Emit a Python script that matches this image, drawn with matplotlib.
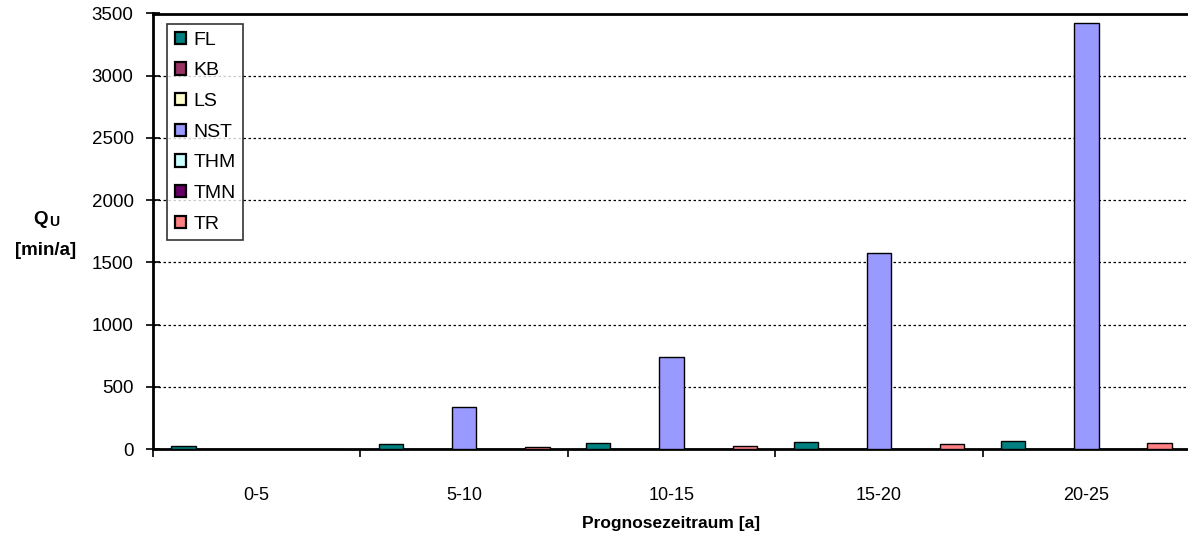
import numpy as np
import matplotlib
matplotlib.use("Agg")
from matplotlib import pyplot as plt

plt.rcParams['font.family'] = ['Liberation Sans', 'DejaVu Sans']

# data
periods = ['0-5', '5-10', '10-15', '15-20', '20-25']
series = ['FL', 'KB', 'LS', 'NST', 'THM', 'TMN', 'TR']
values = {
    'FL':  [27, 43, 45, 55, 62],
    'KB':  [0, 0, 0, 0, 0],
    'LS':  [0, 0, 0, 0, 0],
    'NST': [0, 335, 737, 1578, 3421],
    'THM': [0, 0, 0, 0, 0],
    'TMN': [0, 0, 0, 0, 0],
    'TR':  [0, 15, 27, 43, 51],
}
colors = {
    'FL': '#008080', 'KB': '#993366', 'LS': '#FFFFCC', 'NST': '#9999FF',
    'THM': '#CCFFFF', 'TMN': '#660066', 'TR': '#FF8080',
}

W, H = 1188, 536
fig = plt.figure(figsize=(W / 100, H / 100), dpi=100)
# axes in pixel coords: left 153, right 1190 (runs off the image), top 13.5, bottom 449
ax = fig.add_axes([153 / W, (H - 449) / H, (1190 - 153) / W, (449 - 13.5) / H])

n = len(series)
gap = 1.5
w = 1.0 / (n + gap)
x = np.arange(len(periods))
for i, s in enumerate(series):
    pos = x - 0.5 + gap * w / 2 + (i + 0.5) * w
    ax.bar(pos, values[s], width=w, color=colors[s], edgecolor='black',
           linewidth=1.0, label=s, zorder=3)

ax.set_xlim(-0.5, len(periods) - 0.5)
ax.set_ylim(0, 3500)
ax.set_yticks(np.arange(0, 3501, 500))
ax.yaxis.grid(True, color='black', linestyle=(0, (2, 2)), linewidth=0.9, zorder=0)

# group boundaries as major ticks, labels at centres
ax.set_xticks(np.arange(-0.5, len(periods), 1.0))
ax.set_xticklabels([])
ax.set_xticks(x, minor=True)
ax.set_xticklabels(periods, minor=True)
ax.tick_params(axis='x', which='major', direction='out', length=6, width=1.2, color='black')
ax.tick_params(axis='x', which='minor', length=0, pad=27, labelsize=13)
ax.tick_params(axis='y', direction='inout', length=10, width=1.2, labelsize=13.5, pad=9)

for side in ['left', 'bottom', 'top']:
    ax.spines[side].set_linewidth(2.0)
    ax.spines[side].set_color('black')
ax.spines['right'].set_visible(False)

ax.set_xlabel('Prognosezeitraum [a]', fontsize=12.5, fontweight='bold', labelpad=9)

# y label: Q with small U, then unit
fig.text(41 / W, 1 - 220 / H, 'Q', fontsize=13.5, fontweight='bold', ha='center', va='center')
fig.text(54 / W, 1 - 222 / H, 'U', fontsize=10, fontweight='bold', ha='center', va='center')
fig.text(46 / W, 1 - 250 / H, '[min/a]', fontsize=13.5, fontweight='bold', ha='center', va='center')

leg = ax.legend(loc='upper left', bbox_to_anchor=(0.0135, 0.976), borderaxespad=0,
                fancybox=False, frameon=True, edgecolor='black', fontsize=14,
                handlelength=0.6, handleheight=0.6, handletextpad=0.35,
                labelspacing=0.7, borderpad=0.4)
leg.get_frame().set_linewidth(1.2)
for h in leg.get_patches():
    h.set_linewidth(1.6)
leg.set_zorder(5)

fig.savefig('out.png', dpi=100)
